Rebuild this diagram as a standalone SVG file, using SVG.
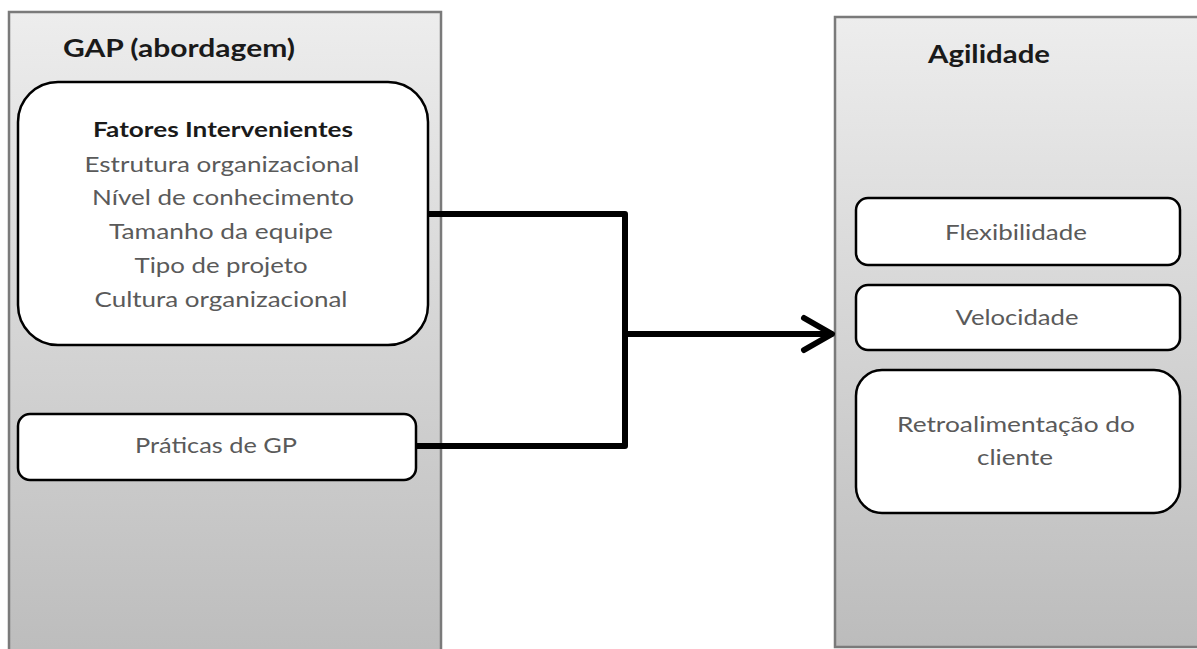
<svg xmlns="http://www.w3.org/2000/svg" width="1197" height="649" viewBox="0 0 1197 649">
<style>
.cont{stroke:#7a7a7a;stroke-width:2.5;fill:url(#g)}
.box{fill:#ffffff;stroke:#000;stroke-width:2.5}
.t{font-family:Lato,"Open Sans","Liberation Sans",sans-serif;font-size:21px;fill:#5a5a5a;text-anchor:middle}
.h{font-family:Lato,"Open Sans","Liberation Sans",sans-serif;font-size:24px;font-weight:bold;fill:#1a1a1a}
.hb{font-family:Lato,"Open Sans","Liberation Sans",sans-serif;font-size:21px;font-weight:bold;fill:#1a1a1a;text-anchor:middle}
.c{fill:none;stroke:#000;stroke-width:6;stroke-linejoin:round;stroke-linecap:round}
</style>
<defs>
<linearGradient id="g" x1="0" y1="0" x2="0" y2="1">
<stop offset="0" stop-color="#ededed"/>
<stop offset="1" stop-color="#bcbcbc"/>
</linearGradient>
</defs>
<rect width="1197" height="649" fill="#ffffff"/>
<g id="gap">
<rect class="cont" x="9" y="12" width="432" height="650"/>
<text class="h" x="63" y="57" textLength="232" lengthAdjust="spacingAndGlyphs">GAP (abordagem)</text>
</g>
<g id="fatores">
<rect class="box" x="18" y="82" width="410" height="263" rx="40" ry="40"/>
<text class="hb" x="223" y="137" textLength="260" lengthAdjust="spacingAndGlyphs">Fatores Intervenientes</text>
<text class="t" x="222" y="172" textLength="275" lengthAdjust="spacingAndGlyphs">Estrutura organizacional</text>
<text class="t" x="223" y="205" textLength="262" lengthAdjust="spacingAndGlyphs">Nível de conhecimento</text>
<text class="t" x="221" y="239" textLength="224" lengthAdjust="spacingAndGlyphs">Tamanho da equipe</text>
<text class="t" x="221" y="273" textLength="173" lengthAdjust="spacingAndGlyphs">Tipo de projeto</text>
<text class="t" x="221" y="307" textLength="253" lengthAdjust="spacingAndGlyphs">Cultura organizacional</text>
</g>
<g id="praticas">
<rect class="box" x="18" y="414" width="398" height="66" rx="12" ry="12"/>
<text class="t" x="216" y="453" textLength="162" lengthAdjust="spacingAndGlyphs">Práticas de GP</text>
</g>
<g id="agilidade">
<rect class="cont" x="835" y="17" width="380" height="630"/>
<text class="h" x="928" y="63" textLength="122" lengthAdjust="spacingAndGlyphs">Agilidade</text>
</g>
<g id="flex">
<rect class="box" x="856" y="198" width="324" height="67" rx="12" ry="12"/>
<text class="t" x="1016" y="240" textLength="142" lengthAdjust="spacingAndGlyphs">Flexibilidade</text>
</g>
<g id="vel">
<rect class="box" x="856" y="285" width="324" height="65" rx="12" ry="12"/>
<text class="t" x="1017" y="325" textLength="123" lengthAdjust="spacingAndGlyphs">Velocidade</text>
</g>
<g id="retro">
<rect class="box" x="856" y="370" width="324" height="143" rx="26" ry="26"/>
<text class="t" x="1016" y="432" textLength="238" lengthAdjust="spacingAndGlyphs">Retroalimentação do</text>
<text class="t" x="1015" y="465" textLength="76" lengthAdjust="spacingAndGlyphs">cliente</text>
</g>
<g id="connectors">
<path class="c" d="M428 214 H625 V446 H416" style="stroke-linecap:butt"/>
<path class="c" d="M625 334 H831"/>
<path class="c" d="M804 318 L832 334 L804 350"/>
</g>
</svg>
